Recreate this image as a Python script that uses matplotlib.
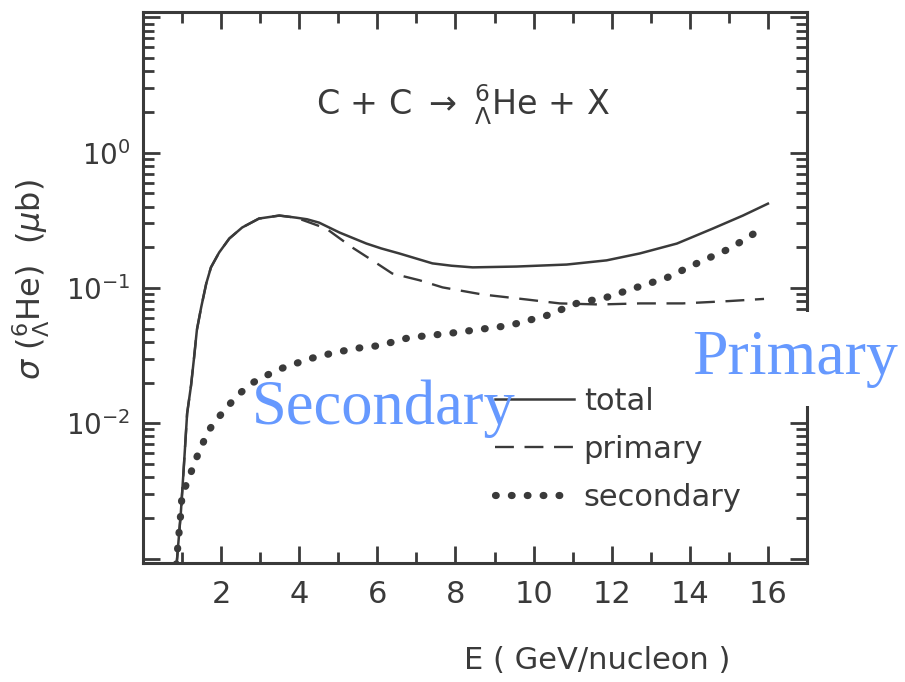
import matplotlib
matplotlib.use("Agg")
import matplotlib.pyplot as plt

# values
E_total = [0.86, 0.97, 1.05, 1.13, 1.23, 1.31, 1.38, 1.49, 1.62, 1.74, 1.95, 2.21,
           2.54, 2.97, 3.49, 3.92, 4.2, 4.51, 5.03, 5.72, 6.1, 6.56, 7.41, 7.9,
           8.44, 9.56, 10.85, 11.87, 12.72, 13.67, 14.59, 15.36, 16.0]
total = [0.0009, 0.0022, 0.0050, 0.0118, 0.019, 0.031, 0.049, 0.072, 0.108, 0.142,
         0.183, 0.232, 0.280, 0.326, 0.343, 0.331, 0.322, 0.304, 0.257, 0.213, 0.196,
         0.180, 0.152, 0.146, 0.142, 0.144, 0.149, 0.160, 0.180, 0.213, 0.275,
         0.343, 0.420]

E_primary = [0.86, 0.97, 1.05, 1.13, 1.23, 1.31, 1.38, 1.49, 1.62, 1.74, 1.95, 2.21,
             2.54, 2.97, 3.49, 3.92, 4.69, 5.36, 5.87, 6.38, 7.08, 7.67, 8.69, 9.82,
             10.67, 11.69, 12.72, 13.82, 15.0, 15.9]
primary = [0.0009, 0.0022, 0.0050, 0.0118, 0.019, 0.031, 0.049, 0.072, 0.108, 0.142,
           0.183, 0.232, 0.280, 0.326, 0.343, 0.331, 0.275, 0.199, 0.160, 0.128,
           0.114, 0.101, 0.0895, 0.0822, 0.0769, 0.0755, 0.0769, 0.0769, 0.080, 0.083]

E_secondary = [0.85, 0.97, 1.0, 1.18, 1.31, 1.49, 1.64, 1.87, 2.15, 2.41, 2.79, 3.15,
               3.56, 3.92, 4.33, 4.85, 5.46, 6.05, 6.82, 7.85, 9.38, 10.33, 11.10,
               11.87, 12.64, 13.41, 14.18, 15.03, 15.85]
secondary = [0.0009, 0.0022, 0.0030, 0.0039, 0.0051, 0.0066, 0.0085, 0.0105, 0.0131,
             0.016, 0.0198, 0.0225, 0.0255, 0.0277, 0.0303, 0.0330, 0.0358, 0.0375,
             0.0430, 0.0462, 0.0528, 0.0625, 0.0769, 0.0853, 0.101, 0.119, 0.152,
             0.196, 0.275]

x_ticks = [2, 4, 6, 8, 10, 12, 14, 16]
y_ticks = [1e-3, 1e-2, 1e-1, 1e0, 1e1]
y_labels = ['', '$10^{-2}$', '$10^{-1}$', '$10^{0}$', '']

ink = '#3a3a3a'
blue = '#6699ff'
plt.rcParams['font.family'] = ['DejaVu Sans']
plt.rcParams['mathtext.fontset'] = 'dejavusans'

fig = plt.figure(figsize=(9.05, 6.82), dpi=100)
ax = fig.add_axes([0.158, 0.1745, 0.7337, 0.8079])

ax.plot(E_total, total, color=ink, lw=1.8, label='total')
ax.plot(E_primary, primary, color=ink, lw=1.7, dashes=(8, 4.5), label='primary')
ax.plot(E_secondary, secondary, color=ink, lw=5.2, linestyle=(0, (0.1, 2.1)),
        dash_capstyle='round', label='secondary')

ax.set_yscale('log')
ax.set_xlim(0, 17)
ax.set_ylim(10 ** -3.033, 10 ** 1.04)
ax.set_xticks(x_ticks)
ax.set_xticks(range(1, 17, 2), minor=True)
ax.set_yticks(y_ticks)
ax.set_yticklabels(y_labels)

for s in ax.spines.values():
    s.set_linewidth(2.2)
    s.set_color(ink)
ax.tick_params(which='both', direction='in', top=True, right=True, color=ink,
               labelcolor=ink, labelsize=22, width=2)
ax.tick_params(which='major', length=12, pad=12)
ax.tick_params(axis='y', which='major', labelsize=20, pad=9)
ax.tick_params(which='minor', length=8)

ax.legend(loc='upper left', bbox_to_anchor=(0.547, 0.433), bbox_transform=fig.transFigure,
          frameon=False, fontsize=22, handlelength=2.6, handletextpad=0.3,
          labelspacing=0.62, borderpad=0, borderaxespad=0, labelcolor=ink)

fig.text(0.512, 0.846, r'C + C $\rightarrow$ ${}^{6}_{\Lambda}$He + X', fontsize=24,
         color=ink, ha='center', va='center')
fig.text(0.66, 0.032, 'E ( GeV/nucleon )', fontsize=22, color=ink, ha='center', va='center')
fig.text(0.034, 0.59, r'$\sigma$ (${}^{6}_{\Lambda}$He)  ($\mu$b)', fontsize=23, color=ink,
         rotation=90, ha='center', va='center')

fig.text(0.879, 0.474, 'Primary', family='Liberation Serif', fontsize=46, color=blue,
         ha='center', va='center',
         bbox=dict(boxstyle='square,pad=0.28', facecolor='white', edgecolor='none'))
fig.text(0.424, 0.40, 'Secondary', family='Liberation Serif', fontsize=45, color=blue,
         ha='center', va='center')

fig.savefig('out.png', dpi=100)
